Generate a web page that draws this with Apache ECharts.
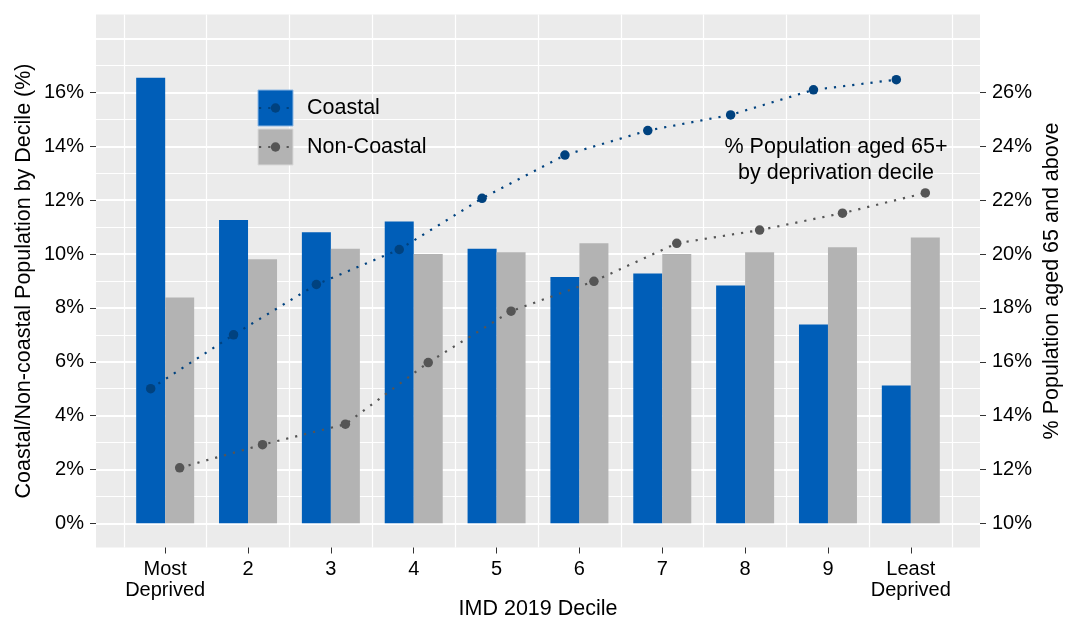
<!DOCTYPE html>
<html>
<head>
<meta charset="utf-8">
<script src="https://cdn.jsdelivr.net/npm/echarts@6/dist/echarts.min.js"></script>
<style>
  html, body { margin: 0; padding: 0; background: #ffffff; }
  #chart { width: 1065px; height: 619px; }
</style>
</head>
<body>
<div id="chart"></div>
<script>
// IMD 2019 deciles, 1 = most deprived, 10 = least deprived
const deciles = [1, 2, 3, 4, 5, 6, 7, 8, 9, 10];
const decileLabels = ['Most\nDeprived', '2', '3', '4', '5', '6', '7', '8', '9', 'Least\nDeprived'];

// Share of the coastal / non-coastal population living in each decile (%)
const coastalShare    = [16.55, 11.27, 10.81, 11.21, 10.20, 9.15, 9.28, 8.83, 7.38, 5.12];
const nonCoastalShare = [8.39, 9.81, 10.20, 10.00, 10.07, 10.40, 10.00, 10.07, 10.25, 10.62];

// Population aged 65 and above within each decile (%)
const coastalAged65    = [15.00, 17.00, 18.87, 20.17, 22.07, 23.68, 24.59, 25.17, 26.10, 26.48];
const nonCoastalAged65 = [12.06, 12.92, 13.68, 15.97, 17.88, 18.99, 20.40, 20.89, 21.52, 22.27];

// Axis tick values
const shareTicks = [0, 2, 4, 6, 8, 10, 12, 14, 16];
const agedTicks  = [10, 12, 14, 16, 18, 20, 22, 24, 26];
const majorGrid  = [0, 2, 4, 6, 8, 10, 12, 14, 16, 18];
const minorGrid  = [1, 3, 5, 7, 9, 11, 13, 15, 17];
const decileGrid = [0.5, 1.5, 2.5, 3.5, 4.5, 5.5, 6.5, 7.5, 8.5, 9.5, 10.5];

const FONT = "'Liberation Sans', Arial, sans-serif";
const COASTAL_BAR = '#005EB8';
const NONCOASTAL_BAR = '#B3B3B3';
const COASTAL_LINE = '#00427F';
const NONCOASTAL_LINE = '#555555';
const DODGE = 0.175;            // half of the dodge width between paired bars

const at = (arr, shift) => arr.map((v, i) => [deciles[i] + shift, v]);

const chart = echarts.init(document.getElementById('chart'), null, { renderer: 'canvas' });

const gridLines = []
  .concat(majorGrid.map(v => ({ yAxis: v, lineStyle: { width: 2 } })))
  .concat(minorGrid.map(v => ({ yAxis: v, lineStyle: { width: 1 } })))
  .concat(decileGrid.map(v => ({ xAxis: v, lineStyle: { width: 1.2 } })));

const dotted = [2.2, 7];

chart.setOption({
  animation: false,
  textStyle: { fontFamily: FONT },
  grid: {
    left: 96, right: 85, top: 14.5, bottom: 71.5,
    outerBoundsMode: 'none',
    containLabel: false,
    show: true, backgroundColor: '#EBEBEB', borderWidth: 0
  },
  xAxis: {
    type: 'value',
    min: 0.165, max: 10.835,
    axisLine: { show: false, onZero: false },
    splitLine: { show: false },
    axisTick: { show: true, length: 6, customValues: deciles, lineStyle: { color: '#333333', width: 1 } },
    axisLabel: {
      customValues: deciles,
      formatter: v => decileLabels[deciles.indexOf(v)],
      color: '#000000', fontSize: 20, lineHeight: 21, margin: 11, fontFamily: FONT
    },
    name: 'IMD 2019 Decile',
    nameLocation: 'middle',
    nameGap: 51,
    nameMoveOverlap: false,
    nameTextStyle: { color: '#000000', fontSize: 21.5, fontFamily: FONT }
  },
  yAxis: [
    {
      type: 'value',
      min: -0.9, max: 18.9,
      axisLine: { show: false, onZero: false },
      splitLine: { show: false },
      axisTick: { show: true, length: 6, customValues: shareTicks, lineStyle: { color: '#333333', width: 1 } },
      axisLabel: {
        customValues: shareTicks,
        formatter: v => v + '%',
        color: '#000000', fontSize: 20, margin: 12, fontFamily: FONT
      },
      name: 'Coastal/Non-coastal Population by Decile (%)',
      nameLocation: 'middle',
      nameRotate: 90,
      nameGap: 61,
      nameMoveOverlap: false,
      nameTextStyle: { color: '#000000', fontSize: 21.5, fontFamily: FONT }
    },
    {
      type: 'value',
      position: 'right',
      min: 9.1, max: 28.9,
      axisLine: { show: false, onZero: false },
      splitLine: { show: false },
      axisTick: { show: true, length: 6, customValues: agedTicks, lineStyle: { color: '#333333', width: 1 } },
      axisLabel: {
        customValues: agedTicks,
        formatter: v => v + '%',
        color: '#000000', fontSize: 20, margin: 12, fontFamily: FONT
      },
      name: '% Population aged 65 and above',
      nameLocation: 'middle',
      nameRotate: 90,
      nameGap: 61,
      nameMoveOverlap: false,
      nameTextStyle: { color: '#000000', fontSize: 21.5, fontFamily: FONT }
    }
  ],
  series: [
    {
      // panel grid lines, drawn beneath the bars
      type: 'line',
      data: [],
      z: 1,
      silent: true,
      markLine: {
        z: 1,
        silent: true,
        symbol: ['none', 'none'],
        label: { show: false },
        lineStyle: { color: '#FFFFFF', type: 'solid' },
        emphasis: { disabled: true },
        data: gridLines
      }
    },
    {
      name: 'Coastal',
      type: 'bar',
      data: at(coastalShare, -DODGE),
      barWidth: 29,
      barGap: '-100%',
      itemStyle: { color: COASTAL_BAR },
      z: 2
    },
    {
      name: 'Non-Coastal',
      type: 'bar',
      data: at(nonCoastalShare, DODGE),
      barWidth: 29,
      barGap: '-100%',
      itemStyle: { color: NONCOASTAL_BAR },
      z: 2
    },
    {
      name: 'Coastal 65+',
      type: 'line',
      yAxisIndex: 1,
      data: at(coastalAged65, -DODGE),
      symbol: 'circle',
      symbolSize: 9.5,
      itemStyle: { color: COASTAL_LINE },
      lineStyle: { color: COASTAL_LINE, width: 2.2, type: dotted },
      z: 4
    },
    {
      name: 'Non-Coastal 65+',
      type: 'line',
      yAxisIndex: 1,
      data: at(nonCoastalAged65, DODGE),
      symbol: 'circle',
      symbolSize: 9.5,
      itemStyle: { color: NONCOASTAL_LINE },
      lineStyle: { color: NONCOASTAL_LINE, width: 2.2, type: dotted },
      z: 4
    }
  ],
  graphic: [
    // legend keys: bar fill with the line-and-point glyph on top
    { type: 'rect', shape: { x: 258, y: 90, width: 35, height: 36 },
      style: { fill: COASTAL_BAR, stroke: '#8FB8E3', lineWidth: 1 }, z: 10 },
    { type: 'line', shape: { x1: 259, y1: 108, x2: 292, y2: 108 },
      style: { stroke: COASTAL_LINE, lineWidth: 2.2, lineDash: [2.2, 7] }, z: 11 },
    { type: 'circle', shape: { cx: 275.5, cy: 108, r: 4.7 }, style: { fill: COASTAL_LINE }, z: 12 },
    { type: 'rect', shape: { x: 258, y: 129, width: 35, height: 36 },
      style: { fill: NONCOASTAL_BAR, stroke: '#D9D9D9', lineWidth: 1 }, z: 10 },
    { type: 'line', shape: { x1: 259, y1: 147, x2: 292, y2: 147 },
      style: { stroke: NONCOASTAL_LINE, lineWidth: 2.2, lineDash: [2.2, 7] }, z: 11 },
    { type: 'circle', shape: { cx: 275.5, cy: 147, r: 4.7 }, style: { fill: NONCOASTAL_LINE }, z: 12 },
    { type: 'text', x: 307, y: 108, z: 12,
      style: { text: 'Coastal', fill: '#000000', fontSize: 21.5, fontFamily: FONT, align: 'left', verticalAlign: 'middle' } },
    { type: 'text', x: 307, y: 147, z: 12,
      style: { text: 'Non-Coastal', fill: '#000000', fontSize: 21.5, fontFamily: FONT, align: 'left', verticalAlign: 'middle' } },
    // annotation describing the dotted lines
    { type: 'text', x: 836, y: 160, z: 12,
      style: { text: '% Population aged 65+\nby deprivation decile', fill: '#000000', fontSize: 21.5,
               lineHeight: 26, fontFamily: FONT, align: 'center', verticalAlign: 'middle' } }
  ]
});
</script>
</body>
</html>
